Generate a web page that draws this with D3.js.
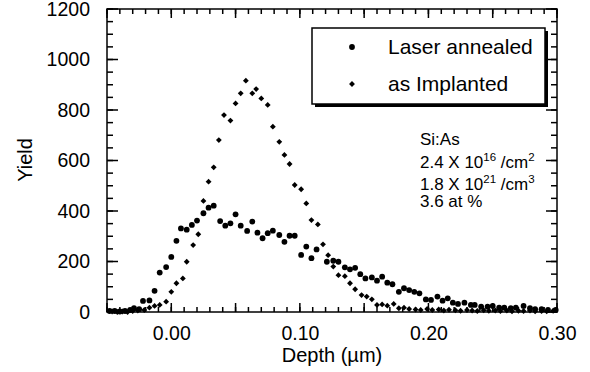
<!DOCTYPE html>
<html>
<head>
<meta charset="utf-8">
<script src="https://cdn.jsdelivr.net/npm/d3@7"></script>
<style>
  body { margin: 0; background: #fff; }
  svg { display: block; font-family: "Liberation Sans", Arial, Helvetica, sans-serif; }
</style>
</head>
<body>
<div id="chart"></div>
<script>
// Laser annealed (circles): depth in µm, yield
const annealedDepth = [-0.048, -0.044, -0.040, -0.036, -0.032, -0.029, -0.025, -0.022, -0.017, -0.013,
  -0.009, -0.004, 0.000, 0.004, 0.0075, 0.012, 0.016, 0.020, 0.025, 0.029,
  0.033, 0.038, 0.042, 0.046, 0.050, 0.054, 0.059, 0.063, 0.067, 0.071,
  0.075, 0.079, 0.084, 0.088, 0.092, 0.096, 0.101, 0.105, 0.109, 0.113,
  0.121, 0.126, 0.130, 0.135, 0.139, 0.143, 0.147, 0.151, 0.156, 0.160,
  0.164, 0.168, 0.172, 0.177, 0.181, 0.185, 0.189, 0.193, 0.198, 0.202,
  0.207, 0.211, 0.215, 0.219, 0.223, 0.228, 0.233, 0.236, 0.241, 0.246,
  0.250, 0.255, 0.259, 0.264, 0.268, 0.274, 0.279, 0.283, 0.288, 0.293, 0.299];
const annealedYield = [4, 4, 2, 4, 8, 15, 11, 44, 46, 84,
  156, 178, 218, 282, 331, 326, 345, 362, 391, 413,
  421, 360, 342, 351, 387, 342, 321, 358, 314, 292,
  312, 322, 305, 278, 302, 302, 226, 259, 213, 248,
  199, 203, 199, 177, 169, 175, 150, 133, 137, 124,
  140, 116, 110, 80, 94, 87, 80, 74, 50, 48,
  61, 45, 54, 37, 32, 37, 28, 28, 21, 21,
  24, 17, 17, 15, 17, 24, 15, 11, 11, 8, 8];

// As implanted (diamonds)
const implantedDepth = [-0.046, -0.042, -0.038, -0.034, -0.030, -0.026, -0.021, -0.017, -0.013, -0.009,
  -0.004, 0.000, 0.004, 0.009, 0.012, 0.017, 0.021, 0.025, 0.029, 0.033,
  0.037, 0.041, 0.046, 0.050, 0.054, 0.058, 0.063, 0.066, 0.070, 0.075,
  0.079, 0.084, 0.088, 0.092, 0.096, 0.101, 0.105, 0.109, 0.114, 0.118,
  0.122, 0.126, 0.130, 0.135, 0.139, 0.143, 0.148, 0.152, 0.156, 0.160,
  0.164, 0.168, 0.173, 0.177, 0.181, 0.185, 0.190, 0.194, 0.199, 0.203,
  0.208, 0.212, 0.216, 0.221, 0.225, 0.230, 0.234, 0.238, 0.243, 0.247,
  0.252, 0.256, 0.261, 0.265, 0.270, 0.274, 0.279, 0.283, 0.288, 0.292, 0.297];
const implantedYield = [2, 0, 2, 0, 4, 6, 8, 17, 24, 28,
  41, 80, 114, 133, 199, 265, 308, 440, 516, 573,
  681, 780, 758, 826, 866, 916, 866, 883, 846, 820,
  734, 674, 622, 586, 503, 486, 430, 364, 347, 268,
  225, 180, 146, 142, 114, 90, 67, 61, 50, 28,
  30, 25, 32, 15, 17, 12, 10, 8, 12, 8,
  10, 6, 9, 7, 5, 8, 6, 4, 7, 5,
  6, 4, 6, 3, 5, 4, 6, 3, 4, 3, 5];

const xLabelTicks = [0.00, 0.10, 0.20, 0.30];
const yLabelTicks = [0, 200, 400, 600, 800, 1000, 1200];
const legendLabels = ["Laser annealed", "as Implanted"];
const noteLines = ["Si:As", "2.4 X 10|16| /cm|2", "1.8 X 10|21| /cm|3", "3.6 at %"];

const width = 590, height = 372;
const plotLeft = 107, plotRight = 557, plotTop = 9, plotBottom = 312;

const svg = d3.select("#chart").append("svg")
  .attr("width", width)
  .attr("height", height);

const x = d3.scaleLinear().domain([-0.05, 0.30]).range([plotLeft, plotRight]);
const y = d3.scaleLinear().domain([0, 1200]).range([plotBottom, plotTop]);

const xMinor = d3.range(-5, 31).map(i => i / 100);
const xMajor = d3.range(-1, 7).map(i => i * 0.05);
const yMinor = d3.range(0, 25).map(i => i * 50);

// inward ticks on all four sides
const tickGroup = svg.append("g").attr("stroke", "#000").attr("stroke-width", 1.5);

function xTicks(vals, len) {
  tickGroup.append("g").selectAll("line").data(vals).join("line")
    .attr("x1", d => x(d)).attr("x2", d => x(d))
    .attr("y1", plotBottom).attr("y2", plotBottom - len);
  tickGroup.append("g").selectAll("line").data(vals).join("line")
    .attr("x1", d => x(d)).attr("x2", d => x(d))
    .attr("y1", plotTop).attr("y2", plotTop + len);
}
function yTicks(vals, len) {
  tickGroup.append("g").selectAll("line").data(vals).join("line")
    .attr("y1", d => y(d)).attr("y2", d => y(d))
    .attr("x1", plotLeft).attr("x2", plotLeft + len);
  tickGroup.append("g").selectAll("line").data(vals).join("line")
    .attr("y1", d => y(d)).attr("y2", d => y(d))
    .attr("x1", plotRight).attr("x2", plotRight - len);
}
xTicks(xMinor, 5);
xTicks(xMajor, 9);
yTicks(yMinor, 6);
yTicks(yLabelTicks, 11);

// tick labels
svg.append("g")
  .attr("transform", `translate(0,${plotBottom})`)
  .call(d3.axisBottom(x).tickValues(xLabelTicks).tickSize(0).tickPadding(14).tickFormat(d3.format(".2f")))
  .call(g => g.select(".domain").remove())
  .call(g => g.attr("font-family", null).attr("font-size", 19.5));

svg.append("g")
  .attr("transform", `translate(${plotLeft},0)`)
  .call(d3.axisLeft(y).tickValues(yLabelTicks).tickSize(0).tickPadding(17).tickFormat(d3.format("d")))
  .call(g => g.select(".domain").remove())
  .call(g => g.attr("font-family", null).attr("font-size", 19.5));

// frame
svg.append("rect")
  .attr("x", plotLeft).attr("y", plotTop)
  .attr("width", plotRight - plotLeft).attr("height", plotBottom - plotTop)
  .attr("fill", "none").attr("stroke", "#000").attr("stroke-width", 1.5);

// axis titles
svg.append("text")
  .attr("x", 332).attr("y", 362)
  .attr("text-anchor", "middle").attr("font-size", 20)
  .text("Depth (\u00b5m)");

svg.append("text")
  .attr("transform", "translate(32,160) rotate(-90)")
  .attr("text-anchor", "middle").attr("font-size", 20)
  .text("Yield");

// data
const diamond = d3.symbol().type(d3.symbolSquare).size(17);

svg.append("g").selectAll("path")
  .data(implantedDepth.map((d, i) => [d, implantedYield[i]]))
  .join("path")
  .attr("d", diamond)
  .attr("transform", d => `translate(${x(d[0])},${y(d[1])}) rotate(45)`)
  .attr("fill", "#000");

svg.append("g").selectAll("circle")
  .data(annealedDepth.map((d, i) => [d, annealedYield[i]]))
  .join("circle")
  .attr("cx", d => x(d[0]))
  .attr("cy", d => y(d[1]))
  .attr("r", 2.9)
  .attr("fill", "#000");

// legend with drop shadow
const legend = svg.append("g");
legend.append("rect")
  .attr("x", 315).attr("y", 31).attr("width", 233).attr("height", 76)
  .attr("fill", "#000");
legend.append("rect")
  .attr("x", 312).attr("y", 28).attr("width", 233).attr("height", 76)
  .attr("fill", "#fff").attr("stroke", "#000").attr("stroke-width", 1.5);

legend.append("circle").attr("cx", 352).attr("cy", 47).attr("r", 2.9);
legend.append("path").attr("d", diamond).attr("transform", "translate(352,84) rotate(45)");

legend.selectAll("text")
  .data(legendLabels)
  .join("text")
  .attr("x", 388)
  .attr("y", (d, i) => 54 + i * 37)
  .attr("font-size", 21)
  .text(d => d);

// sample notes, superscripts marked with |
const notes = svg.append("g").attr("font-size", 17);
const noteY = [145, 168, 190, 207];
noteLines.forEach((line, i) => {
  const t = notes.append("text").attr("x", 420).attr("y", noteY[i]);
  line.split("|").forEach((part, j) => {
    const s = t.append("tspan").text(part);
    if (j % 2 === 1) {
      s.attr("font-size", 11.5).attr("dy", -7);
    } else if (j > 0) {
      s.attr("dy", 7);
    }
  });
});
</script>
</body>
</html>
